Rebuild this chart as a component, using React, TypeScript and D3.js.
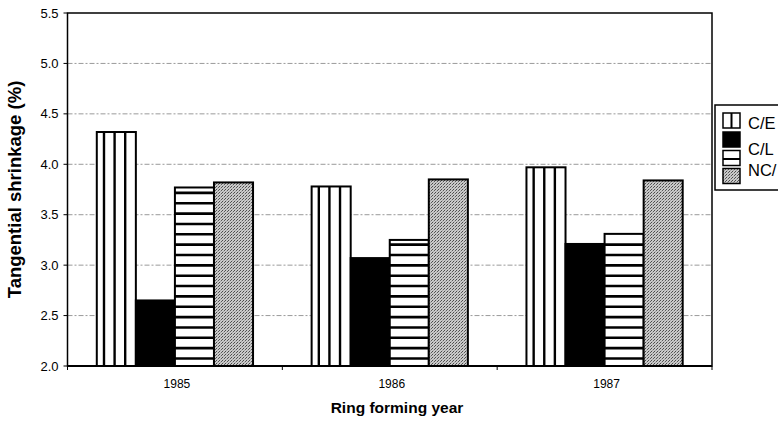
import React from "react";
import * as d3 from "d3";

const categories = ["1985", "1986", "1987"];
const seriesKeys = ["C/E", "C/L", "NC/E", "NC/L"];
const ceValues = [4.32, 3.78, 3.97];
const clValues = [2.65, 3.07, 3.21];
const nceValues = [3.77, 3.25, 3.31];
const nclValues = [3.82, 3.85, 3.84];
const yTicks = [2.0, 2.5, 3.0, 3.5, 4.0, 4.5, 5.0, 5.5];
const legendLabels = ["C/E", "C/L", "NC/"];

const W = 778;
const H = 421;
const plot = { left: 67.5, right: 712, top: 13, bottom: 366 };
const FONT = "'Liberation Sans', Arial, sans-serif";

export default function App() {
  const x = d3
    .scaleBand<string>()
    .domain(categories)
    .range([plot.left, plot.right])
    .paddingInner(0)
    .paddingOuter(0);
  const y = d3.scaleLinear().domain([2, 5.5]).range([plot.bottom, plot.top]);
  const seriesValues = [ceValues, clValues, nceValues, nclValues];
  const bw = x.bandwidth() / 5.5;
  const xs = d3
    .scaleBand<string>()
    .domain(seriesKeys)
    .range([0, bw * 4]);

  const bars: React.ReactNode[] = [];
  categories.forEach((c, ci) => {
    const gx = (x(c) as number) + x.bandwidth() / 2 - bw * 2;
    seriesKeys.forEach((s, si) => {
      const v = seriesValues[si][ci];
      const x0 = gx + (xs(s) as number);
      const x1 = x0 + bw;
      const yt = y(v);
      const yb = y(2);
      const key = `${c}-${s}`;
      const fill = si === 1 ? "#000" : si === 3 ? "url(#stipple)" : "#fff";
      bars.push(
        <rect key={key} x={x0} y={yt} width={bw} height={yb - yt} fill={fill} stroke="none" />
      );
      if (si === 0) {
        for (let lx = x0 + 7.2; lx < x1 - 3; lx += 10.6) {
          bars.push(
            <line key={key + "v" + lx} x1={lx} x2={lx} y1={yt} y2={yb} stroke="#000" strokeWidth={2.4} />
          );
        }
      }
      if (si === 2) {
        for (let ly = 358.5; ly > yt + 3; ly -= 10.35) {
          bars.push(
            <line key={key + "h" + ly} x1={x0} x2={x1} y1={ly} y2={ly} stroke="#000" strokeWidth={2.6} />
          );
        }
      }
      bars.push(
        <rect key={key + "o"} x={x0} y={yt} width={bw} height={yb - yt} fill="none" stroke="#000" strokeWidth={2} />
      );
    });
  });

  const legendRows = [
    { y0: 113, kind: 0 },
    { y0: 132, kind: 1 },
    { y0: 150.5, kind: 2 },
    { y0: 168.5, kind: 3 },
  ];
  const labelBaselines = [128.5, 155, 175.5];

  return (
    <svg
      width={W}
      height={H}
      style={{ position: "absolute", left: 0, top: 0, background: "#fff" }}
      fontFamily={FONT}
    >
      <defs>
        <pattern id="stipple" width={3} height={3} patternUnits="userSpaceOnUse">
          <rect width={3} height={3} fill="#cacaca" />
          <rect x={0} y={0} width={1} height={1} fill="#4a4a4a" />
          <rect x={2} y={1} width={1} height={1} fill="#5a5a5a" />
          <rect x={1} y={2} width={1} height={1} fill="#a0a0a0" />
        </pattern>
      </defs>
      <rect width={W} height={H} fill="#fff" />

      {/* gridlines */}
      {yTicks.filter((t) => t > 2 && t < 5.5).map((t) => (
        <line
          key={"g" + t}
          x1={plot.left}
          x2={plot.right}
          y1={y(t)}
          y2={y(t)}
          stroke="#9a9a9a"
          strokeWidth={1}
          strokeDasharray="5 2 2 2"
        />
      ))}

      {/* y ticks and labels */}
      {yTicks.map((t) => (
        <g key={"yt" + t}>
          <line x1={plot.left - 4} x2={plot.left} y1={y(t)} y2={y(t)} stroke="#000" strokeWidth={1} />
          <text x={58.5} y={y(t) + 4.5} textAnchor="end" fontSize={13} fill="#000">
            {d3.format(".1f")(t)}
          </text>
        </g>
      ))}

      {/* x ticks */}
      {[...categories.map((c) => x(c) as number), plot.right].map((tx, i) => (
        <line key={"xt" + i} x1={tx} x2={tx} y1={plot.bottom} y2={plot.bottom + 4} stroke="#000" strokeWidth={1} />
      ))}
      {categories.map((c) => (
        <text
          key={"xl" + c}
          x={(x(c) as number) + x.bandwidth() / 2 + 2}
          y={388}
          textAnchor="middle"
          fontSize={12}
          fill="#000"
        >
          {c}
        </text>
      ))}

      {bars}

      {/* plot border */}
      <rect
        x={plot.left}
        y={plot.top}
        width={plot.right - plot.left}
        height={plot.bottom - plot.top}
        fill="none"
        stroke="#000"
        strokeWidth={1.5}
      />
      <line x1={plot.left} x2={plot.right} y1={plot.bottom} y2={plot.bottom} stroke="#000" strokeWidth={2} />

      {/* axis titles */}
      <text
        transform={`translate(21,${(plot.top + plot.bottom) / 2}) rotate(-90)`}
        textAnchor="middle"
        fontSize={18.5}
        fontWeight="bold"
        fill="#000"
      >
        Tangential shrinkage (%)
      </text>
      <text x={397} y={412.5} textAnchor="middle" fontSize={15.5} fontWeight="bold" fill="#000">
        Ring forming year
      </text>

      {/* legend */}
      <rect x={715} y={105} width={80} height={85} fill="#fff" stroke="#000" strokeWidth={1.5} />
      {legendRows.map((r) => {
        const sx = 723;
        const sw = 17;
        const sh = 15;
        const fill = r.kind === 1 ? "#000" : r.kind === 3 ? "url(#stipple)" : "#fff";
        return (
          <g key={"lg" + r.kind}>
            <rect x={sx} y={r.y0} width={sw} height={sh} fill={fill} stroke="#000" strokeWidth={1.5} />
            {r.kind === 0 && (
              <line x1={sx + sw / 2} x2={sx + sw / 2} y1={r.y0} y2={r.y0 + sh} stroke="#000" strokeWidth={2} />
            )}
            {r.kind === 2 && (
              <line x1={sx} x2={sx + sw} y1={r.y0 + sh / 2 + 1} y2={r.y0 + sh / 2 + 1} stroke="#000" strokeWidth={2} />
            )}
          </g>
        );
      })}
      {legendLabels.map((l, i) => (
        <text key={"ll" + l} x={748} y={labelBaselines[i]} fontSize={16.5} fill="#000">
          {l}
        </text>
      ))}
    </svg>
  );
}
